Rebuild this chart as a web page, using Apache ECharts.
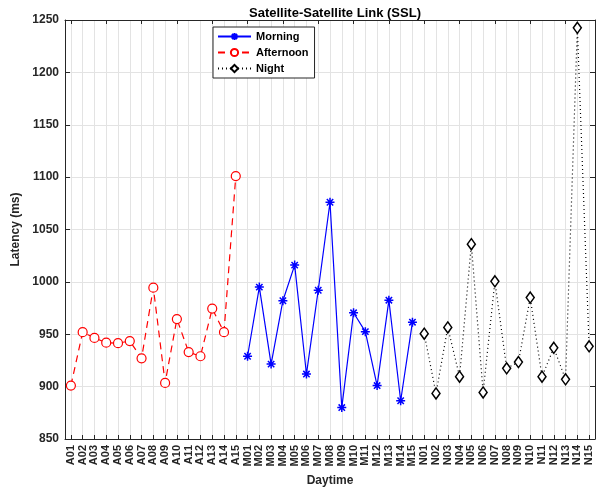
<!DOCTYPE html>
<html><head><meta charset="utf-8">
<script src="https://cdn.jsdelivr.net/npm/echarts@6/dist/echarts.min.js"></script>
<style>html,body{margin:0;padding:0;background:#fff}#c{width:605px;height:492px}</style>
</head><body><div id="c"></div>
<script>
const categories = ['A01','A02','A03','A04','A05','A06','A07','A08','A09','A10','A11','A12','A13','A14','A15',
  'M01','M02','M03','M04','M05','M06','M07','M08','M09','M10','M11','M12','M13','M14','M15',
  'N01','N02','N03','N04','N05','N06','N07','N08','N09','N10','N11','N12','N13','N14','N15'];
const afternoonCats = categories.slice(0,15);
const morningCats = categories.slice(15,30);
const nightCats = categories.slice(30,45);
const afternoon = [901, 952, 946.5, 942, 941.5, 943.5, 927, 994.5, 903.5, 964.5, 933, 929, 974.5, 952, 1101];
const morning = [929, 995, 921.5, 982, 1016, 912, 992, 1076, 880, 970.5, 952.5, 901, 982.5, 886.5, 961.5];
const night = [950.5, 893.5, 956.5, 909.5, 1036, 894.5, 1000.5, 917.5, 923.5, 985, 909.5, 937, 907, 1242.5, 938.5];
const yTicks = [850, 900, 950, 1000, 1050, 1100, 1150, 1200, 1250];

const toPairs = (cats, vals) => cats.map((c, i) => [c, vals[i]]);
const FONT = 'Liberation Sans';
const asterisk = 'path://M0,-10L0,10M-10,0L10,0M-7.07,-7.07L7.07,7.07M-7.07,7.07L7.07,-7.07';

const chart = echarts.init(document.getElementById('c'), null, {renderer: 'canvas'});
const axisLine = {show: true, lineStyle: {color: '#262626', width: 1}};
chart.setOption({
  animation: false,
  backgroundColor: '#fff',
  textStyle: {fontFamily: FONT},
  title: {text: 'Satellite-Satellite Link (SSL)', left: 330, top: 2, textAlign: 'center',
    textStyle: {fontFamily: FONT, fontWeight: 'bold', fontSize: 13, color: '#000'}},
  grid: {left: 65, right: 10, top: 20, bottom: 52},
  legend: {
    orient: 'vertical', left: 213, top: 27, itemWidth: 33, itemHeight: 9, itemGap: 5, z: 10,
    padding: [4, 6, 4, 4], borderColor: '#262626', borderWidth: 1, backgroundColor: '#fff',
    data: ['Morning', 'Afternoon', 'Night'],
    textStyle: {fontFamily: FONT, fontWeight: 'bold', fontSize: 11, color: '#000'}
  },
  xAxis: [{
    type: 'category', data: categories, boundaryGap: true,
    name: 'Daytime', nameLocation: 'middle', nameGap: 36,
    nameTextStyle: {fontFamily: FONT, fontWeight: 'bold', fontSize: 12, color: '#262626'},
    axisLine: axisLine,
    axisTick: {show: true, inside: true, alignWithLabel: true, length: 4, lineStyle: {color: '#262626'}},
    axisLabel: {rotate: 90, interval: 0, fontFamily: FONT, fontWeight: 'bold', fontSize: 11, color: '#262626', margin: 6},
    splitLine: {show: false}
  }, {
    type: 'category', data: categories, position: 'top', boundaryGap: true,
    axisLine: axisLine,
    axisTick: {show: true, inside: true, alignWithLabel: true, length: 4, lineStyle: {color: '#262626'}},
    axisLabel: {show: false}, splitLine: {show: false}
  }],
  yAxis: [{
    type: 'value', min: 850, max: 1250, interval: 50,
    name: 'Latency (ms)', nameLocation: 'middle', nameGap: 38,
    nameTextStyle: {fontFamily: FONT, fontWeight: 'bold', fontSize: 12, color: '#262626'},
    axisLine: axisLine,
    axisTick: {show: true, inside: true, length: 5, lineStyle: {color: '#262626'}},
    axisLabel: {fontFamily: FONT, fontWeight: 'bold', fontSize: 12, color: '#262626', margin: 6,
      formatter: v => yTicks.includes(v) ? String(v) : ''},
    splitLine: {show: true, lineStyle: {color: '#e3e3e3', width: 1}}
  }, {
    type: 'value', min: 850, max: 1250, interval: 50, position: 'right',
    axisLine: axisLine,
    axisTick: {show: true, inside: true, length: 5, lineStyle: {color: '#262626'}},
    axisLabel: {show: false}, splitLine: {show: false}
  }],
  series: [{
    name: 'grid', type: 'line', data: [], z: 0, silent: true,
    markLine: {
      silent: true, symbol: ['none', 'none'], animation: false, z: 0,
      label: {show: false},
      lineStyle: {color: '#e3e3e3', width: 1, type: 'solid'},
      emphasis: {disabled: true},
      data: categories.map(c => ({xAxis: c}))
    }
  }, {
    name: 'Morning', type: 'line', data: toPairs(morningCats, morning),
    symbol: asterisk, symbolSize: 9,
    lineStyle: {color: '#0000ff', width: 1.2, type: 'solid'},
    itemStyle: {color: '#0000ff', borderColor: '#0000ff', borderWidth: 1.5},
    z: 3
  }, {
    name: 'Afternoon', type: 'line', data: toPairs(afternoonCats, afternoon),
    symbol: 'circle', symbolSize: 9,
    lineStyle: {color: '#ff0000', width: 1.2, type: [7, 5]},
    itemStyle: {color: '#fff', borderColor: '#ff0000', borderWidth: 1.2},
    z: 3
  }, {
    name: 'Night', type: 'line', data: toPairs(nightCats, night),
    symbol: 'diamond', symbolSize: [8, 11],
    lineStyle: {color: '#000', width: 1.2, type: [1, 3]},
    itemStyle: {color: '#fff', borderColor: '#000', borderWidth: 1.5},
    z: 3
  }]
});
</script></body></html>
